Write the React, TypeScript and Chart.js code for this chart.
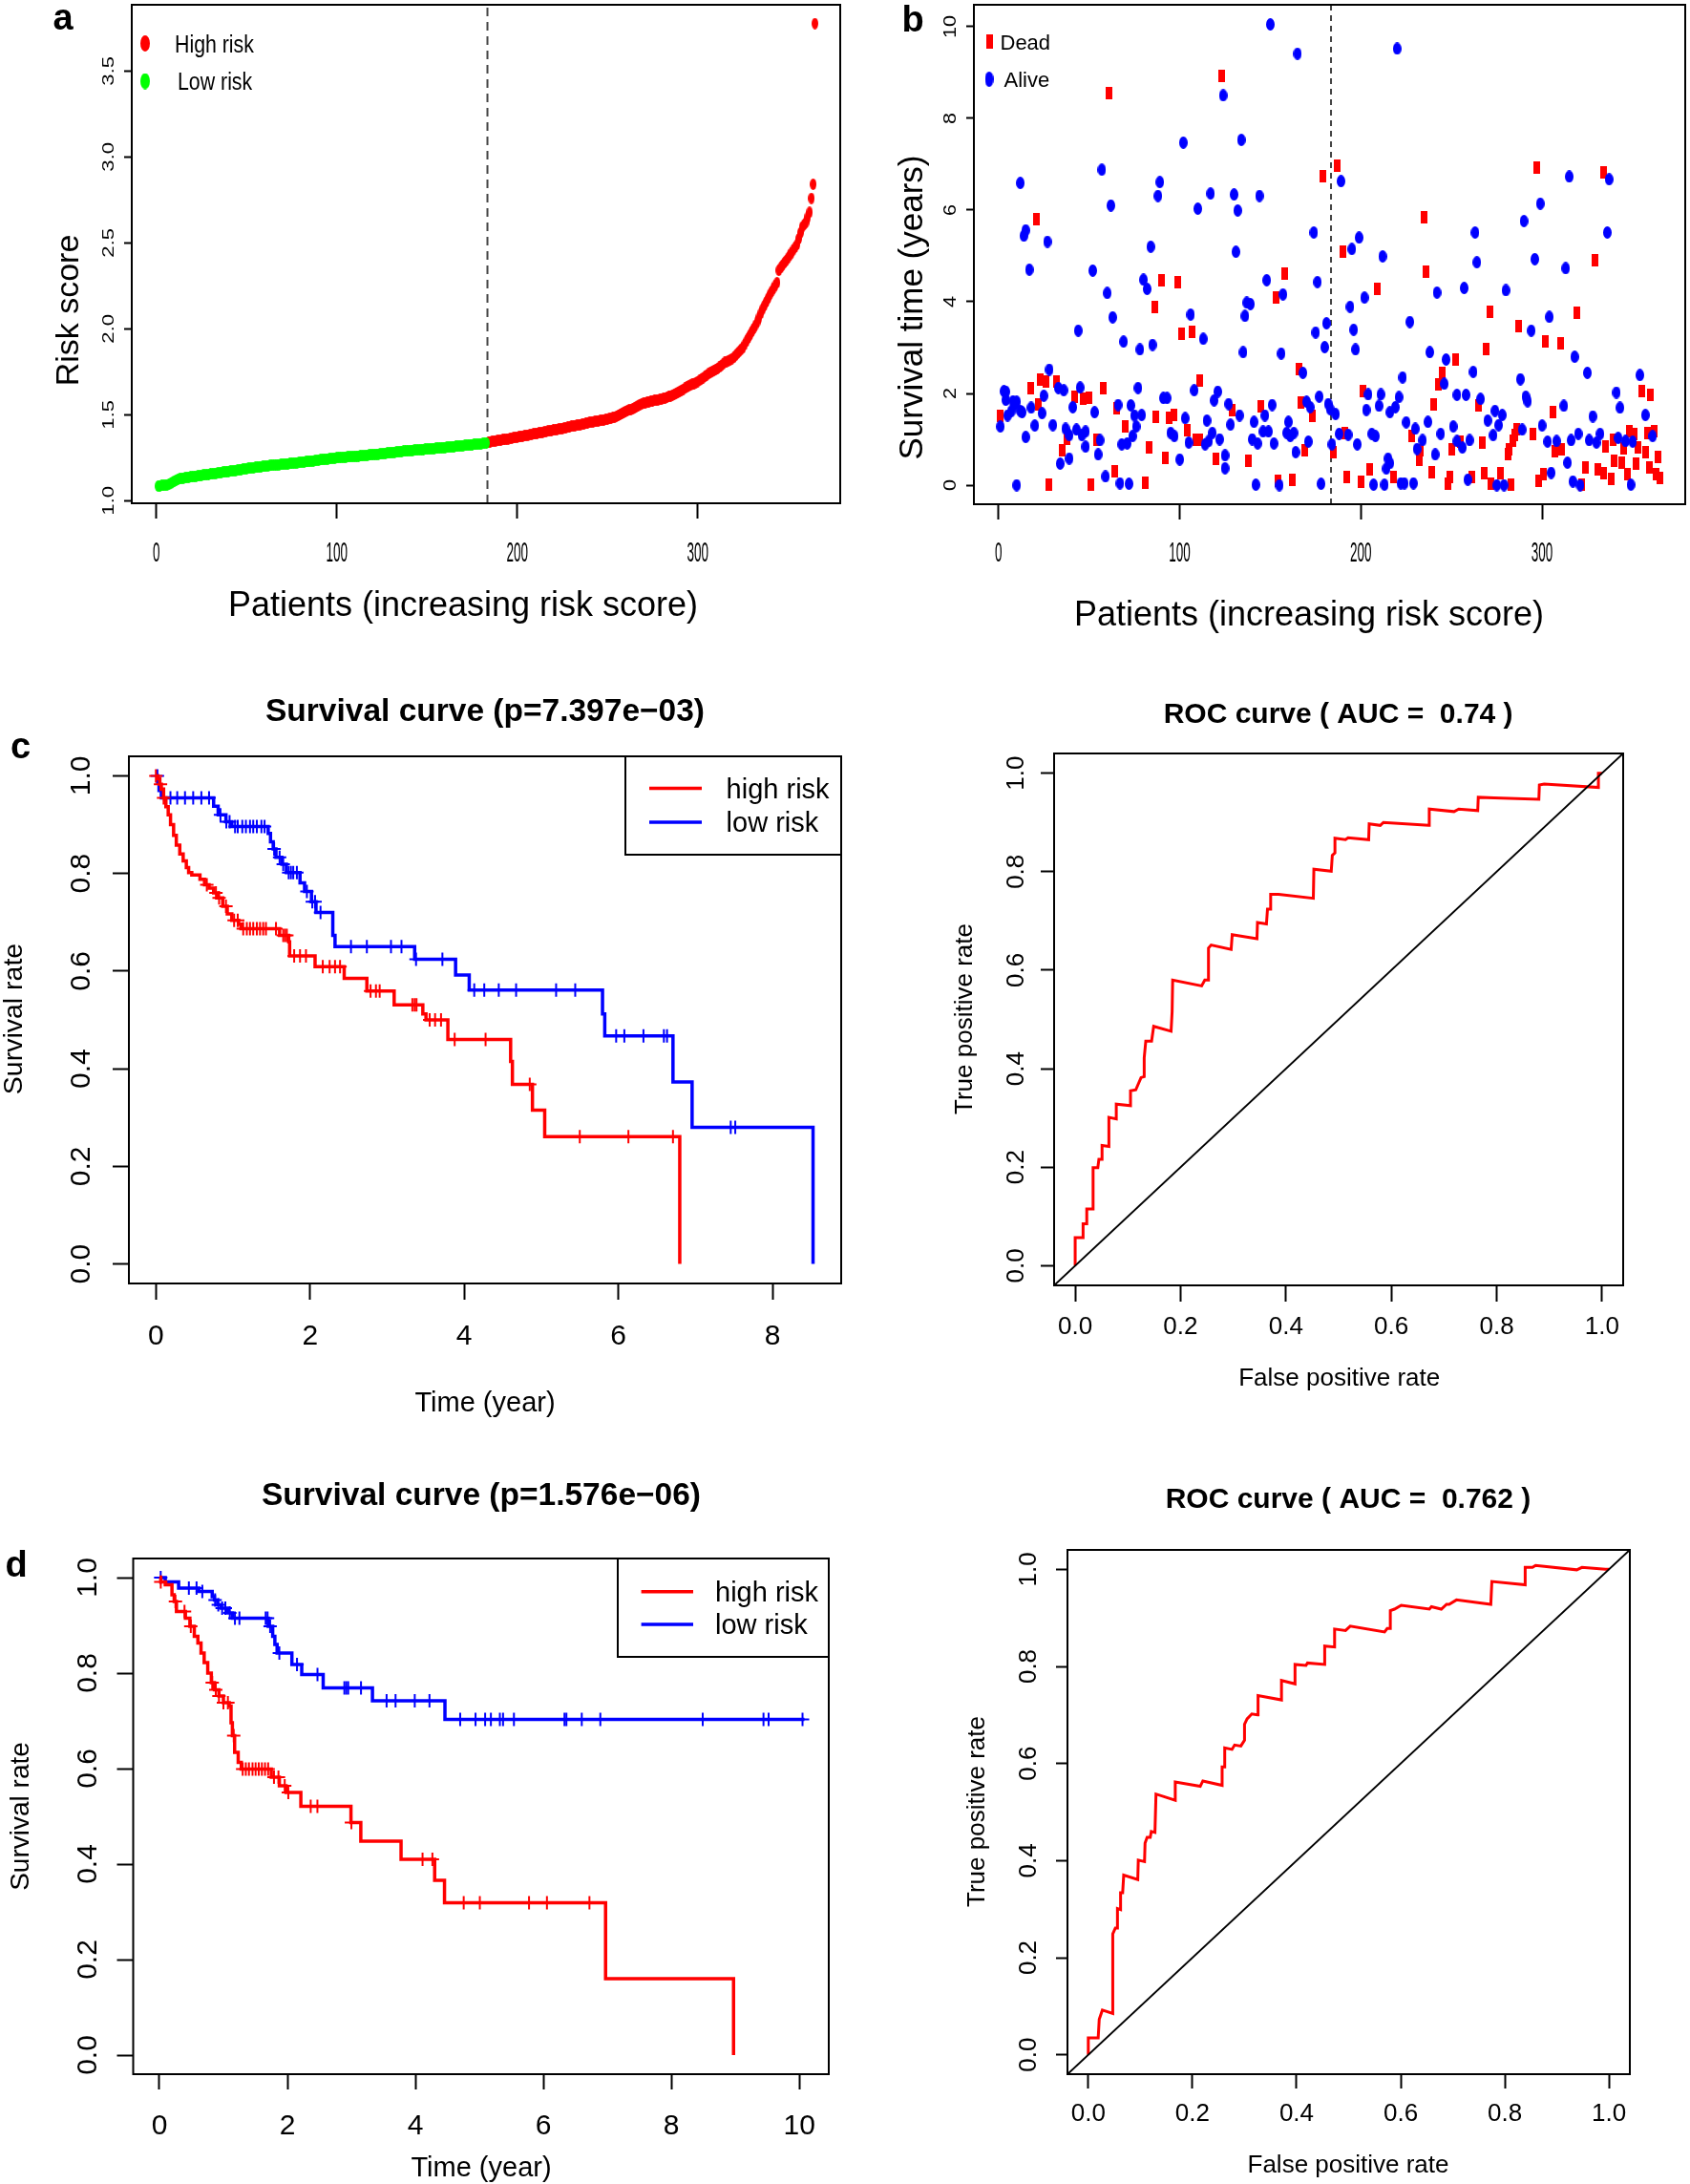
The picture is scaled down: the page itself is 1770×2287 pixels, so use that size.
import React, { useEffect, useRef } from 'react';
import { Chart, registerables } from 'chart.js';
Chart.register(...registerables);

const FONT = '"Liberation Sans", Arial, Helvetica, sans-serif';

// ---------------- Panel a: risk score per patient (sorted) ----------------
const riskScores = [
  1.085,1.086,1.088,1.089,1.090,1.092,1.095,1.100,1.108,1.115,1.120,1.125,1.128,1.130,1.132,1.134,1.136,1.137,1.139,1.140,
  1.141,1.143,1.144,1.146,1.147,1.149,1.150,1.152,1.153,1.155,1.157,1.158,1.160,1.161,1.163,1.164,1.166,1.167,1.169,1.170,
  1.172,1.173,1.175,1.176,1.178,1.180,1.182,1.184,1.185,1.187,1.188,1.190,1.191,1.192,1.194,1.195,1.196,1.198,1.199,1.200,
  1.202,1.203,1.205,1.206,1.207,1.208,1.209,1.210,1.211,1.212,1.213,1.214,1.215,1.216,1.217,1.218,1.220,1.221,1.222,1.224,
  1.225,1.226,1.227,1.229,1.230,1.231,1.232,1.233,1.235,1.236,1.238,1.239,1.241,1.242,1.243,1.245,1.246,1.247,1.248,1.250,
  1.251,1.252,1.252,1.253,1.254,1.255,1.256,1.256,1.257,1.258,1.259,1.260,1.261,1.262,1.263,1.264,1.265,1.266,1.267,1.268,
  1.269,1.270,1.271,1.272,1.273,1.275,1.276,1.277,1.278,1.279,1.281,1.282,1.283,1.284,1.286,1.287,1.288,1.289,1.290,1.291,
  1.292,1.293,1.294,1.295,1.296,1.297,1.297,1.298,1.299,1.300,1.301,1.302,1.303,1.304,1.305,1.306,1.307,1.308,1.309,1.310,
  1.311,1.312,1.313,1.314,1.315,1.317,1.318,1.319,1.320,1.321,1.322,1.323,1.324,1.325,1.326,1.327,1.328,1.329,1.330,1.331,
  1.333,1.334,1.336,1.340,1.343,1.345,1.347,1.348,1.350,1.352,1.353,1.355,1.357,1.358,1.360,1.362,1.364,1.366,1.368,1.370,
  1.372,1.374,1.376,1.378,1.380,1.382,1.384,1.386,1.388,1.390,1.392,1.394,1.396,1.398,1.400,1.402,1.405,1.407,1.409,1.411,
  1.413,1.415,1.417,1.419,1.421,1.423,1.425,1.427,1.430,1.433,1.435,1.437,1.439,1.441,1.443,1.445,1.447,1.449,1.452,1.455,
  1.457,1.459,1.461,1.463,1.465,1.466,1.468,1.470,1.472,1.474,1.477,1.480,1.483,1.487,1.491,1.496,1.502,1.508,1.514,1.520,
  1.524,1.528,1.531,1.534,1.540,1.547,1.554,1.560,1.564,1.567,1.570,1.573,1.576,1.579,1.581,1.583,1.585,1.587,1.589,1.592,
  1.595,1.598,1.602,1.606,1.610,1.614,1.618,1.624,1.630,1.636,1.642,1.648,1.655,1.661,1.667,1.672,1.677,1.682,1.687,1.693,
  1.700,1.707,1.715,1.723,1.731,1.739,1.745,1.751,1.757,1.763,1.769,1.777,1.786,1.795,1.805,1.810,1.815,1.820,1.826,1.833,
  1.845,1.857,1.868,1.879,1.890,1.908,1.927,1.946,1.965,1.984,2.002,2.021,2.040,2.065,2.090,2.115,2.136,2.157,2.178,2.200,
  2.218,2.236,2.253,2.269,2.340,2.355,2.370,2.384,2.397,2.412,2.428,2.443,2.459,2.474,2.490,2.524,2.559,2.593,2.607,2.620,
  2.650,2.678,2.759,2.841,3.776,
];
const lowRiskCount = 183;
const cutoffPatient = 183.5;

// ---------------- Panel b: survival time by patient ----------------
const alivePatient = [
  12,14,15,17,27,52,57,60,62,84,80,82,88,89,102,110,117,124,130,132,131,134,144,148,150,157,165,174,176,189,195,199,202,212,220,242,257,263,264,280,290,296,299,313,315,336,337,
  63,44,69,78,85,106,113,28,3,4,4,8,10,9,7,5,12,13,1,15,10,18,20,24,25,30,33,36,37,39,41,43,45,46,48,48,53,34,39,55,56,59,66,67,72,68,71,73,74,75,76,77,79,91,93,95,97,100,103,105,108,115,114,116,119,121,122,
  137,139,136,135,156,168,175,180,181,194,196,197,227,238,247,127,133,128,118,125,125,141,147,146,149,140,143,152,142,151,160,159,161,163,164,155,170,172,171,177,178,182,183,186,184,188,193,198,204,203,206,208,211,210,216,219,221,223,207,213,215,216,214,222,224,229,225,230,234,231,237,241,244,246,251,253,253,
  294,304,318,325,354,262,288,291,292,258,266,274,278,270,276,273,289,300,312,328,341,343,357,256,260,303,308,316,320,314,326,330,332,342,346,350,361,259,275,279,305,317,321,349,
];
const aliveYears = [
  6.59,5.44,5.56,4.70,5.31,4.68,6.88,4.19,6.10,5.20,4.48,4.28,6.31,6.61,7.47,6.03,6.36,8.50,6.34,5.99,5.09,7.53,6.31,4.47,10.05,4.16,9.41,5.51,4.43,6.63,5.15,5.40,4.09,4.99,9.52,4.20,4.30,5.51,4.86,4.25,5.76,4.93,6.14,4.73,6.73,5.51,6.67,
  3.66,3.37,3.13,2.96,3.06,3.72,3.19,2.52,2.05,2.04,1.86,1.83,1.82,1.76,1.61,1.52,1.62,1.59,1.28,1.05,0.00,1.69,1.30,1.57,1.95,1.31,2.12,2.07,1.23,1.09,1.70,1.21,2.13,1.09,1.17,0.84,1.59,0.47,0.58,0.67,0.98,0.19,1.75,0.04,0.03,0.89,0.91,1.74,1.07,1.52,1.28,2.12,1.53,1.90,1.90,1.14,1.07,0.56,1.46,0.93,2.07,1.41,0.89,0.96,1.85,2.04,1.00,
  3.98,3.95,3.69,2.90,2.87,2.45,3.33,3.01,3.53,3.89,3.39,2.96,3.56,2.90,2.74,1.77,1.52,1.32,1.14,0.65,0.37,1.38,1.52,1.17,1.17,1.00,0.91,0.91,0.01,1.75,1.38,1.14,1.07,1.14,0.72,0.00,1.82,1.70,0.95,1.93,0.03,1.77,1.66,1.55,0.89,1.12,1.10,0.89,1.98,1.64,1.12,1.07,1.98,1.73,1.59,1.70,1.92,2.35,0.01,0.01,0.58,0.48,0.36,0.04,0.04,0.04,1.37,1.23,0.98,0.79,1.38,0.67,1.12,2.21,1.28,0.96,1.97,
  3.37,3.67,2.80,2.45,2.40,2.47,2.31,1.93,1.83,1.97,1.88,1.62,1.53,1.41,1.31,1.09,1.21,1.30,1.73,1.50,2.02,1.69,1.53,0.82,0.98,0.95,0.96,0.98,1.12,0.49,0.98,0.93,1.12,1.03,0.96,0.95,1.07,0.12,0.00,0.00,0.27,0.08,0.00,0.01,
];
const deadPatient = [
  21,61,90,99,123,158,153,179,187,190,209,235,236,297,329,334,
  86,101,107,111,1,18,23,26,32,22,42,47,50,58,38,35,54,65,70,64,28,51,81,83,87,92,94,97,104,109,111,120,
  166,201,245,243,252,240,129,145,167,173,138,169,185,191,154,162,192,200,205,218,228,233,232,239,249,248,250,
  271,287,302,310,319,269,355,360,265,306,255,267,286,285,284,282,281,295,307,311,335,339,340,344,345,348,351,353,357,352,358,362,359,364,363,365,261,268,272,277,283,298,301,322,324,331,334,338,347,
];
const deadYears = [
  5.80,8.56,4.46,4.43,8.92,4.61,4.09,6.73,6.97,5.09,4.28,5.84,4.65,6.93,4.91,6.82,
  3.89,3.31,3.35,2.28,1.52,2.11,2.31,2.27,2.27,1.76,1.93,1.88,1.90,2.11,1.02,0.76,1.00,1.67,1.28,0.30,0.01,0.01,0.06,0.82,1.50,0.60,1.46,1.53,1.19,0.98,0.98,0.57,
  2.54,2.05,2.45,2.19,2.74,1.76,1.64,1.71,1.81,1.52,0.53,0.76,0.72,1.14,0.10,0.11,0.17,0.08,0.35,0.18,1.07,0.77,0.56,0.29,0.17,0.04,0.79,
  3.79,3.46,3.13,3.10,3.76,2.97,2.05,1.96,1.73,1.59,0.95,0.93,1.22,1.10,0.96,0.79,0.67,1.12,0.73,0.79,0.84,1.00,0.53,0.48,0.81,1.17,1.12,0.82,0.72,0.46,1.14,1.17,0.39,0.62,0.24,0.15,0.17,0.27,0.03,0.27,0.01,0.10,0.25,0.01,0.39,0.34,0.27,0.13,0.24,
];

// ---------------- Tick values ----------------
const patientTicks = [0, 100, 200, 300];
const riskTicks = [1.0, 1.5, 2.0, 2.5, 3.0, 3.5];
const yearTicksB = [0, 2, 4, 6, 8, 10];
const kmTimeTicksC = [0, 2, 4, 6, 8];
const kmTimeTicksD = [0, 2, 4, 6, 8, 10];
const rateTicks = [0, 0.2, 0.4, 0.6, 0.8, 1.0];

// ---------------- Panel c: Kaplan-Meier (training) ----------------
const cHighTime = [0,0.024,0.05,0.071,0.10,0.13,0.16,0.19,0.23,0.265,0.31,0.354,0.395,0.425,0.466,0.572,0.631,0.69,0.749,0.808,0.867,0.926,0.985,1.074,1.103,1.605,1.723,1.735,2.065,2.443,2.737,3.091,3.463,3.504,3.788,4.602,4.625,4.885,5.044,6.796];
const cHighSurv = [1.0,0.994,0.983,0.973,0.955,0.937,0.920,0.900,0.878,0.858,0.840,0.826,0.812,0.802,0.797,0.788,0.777,0.770,0.760,0.750,0.733,0.717,0.704,0.696,0.687,0.673,0.660,0.631,0.609,0.585,0.559,0.531,0.512,0.500,0.460,0.415,0.368,0.315,0.261,0];
const cHighCensor = [0.0,0.06,0.10,0.661,0.779,0.82,0.909,1.015,1.062,1.133,1.18,1.221,1.263,1.31,1.351,1.392,1.428,1.558,1.652,1.676,1.699,1.794,1.87,1.947,2.165,2.254,2.324,2.389,2.785,2.855,2.903,3.327,3.357,3.381,3.552,3.622,3.699,3.876,4.277,4.85,5.499,6.13,6.708];
const cLowTime = [0,0.024,0.041,0.071,0.749,0.808,0.909,0.985,1.457,1.487,1.522,1.558,1.634,1.693,1.87,1.929,2.018,2.077,2.295,2.324,3.357,3.888,4.065,5.794,5.823,6.708,6.956,8.525];
const cLowSurv = [1.0,0.985,0.970,0.955,0.938,0.920,0.906,0.896,0.882,0.865,0.850,0.833,0.819,0.802,0.781,0.763,0.742,0.720,0.673,0.650,0.624,0.592,0.561,0.512,0.467,0.373,0.280,0];
const cLowCensor = [0.02,0.189,0.277,0.378,0.484,0.59,0.69,0.838,0.914,0.956,1.027,1.062,1.121,1.168,1.221,1.263,1.31,1.369,1.41,1.534,1.605,1.652,1.723,1.752,1.782,1.829,1.959,2.029,2.065,2.136,2.531,2.737,3.05,3.186,3.375,3.717,4.13,4.26,4.448,4.673,5.192,5.44,5.971,6.077,6.325,6.59,6.631,7.457,7.516];

// ---------------- Panel c: ROC ----------------
const rocCFpr = [0,0,.015,.015,.022,.022,.034,.034,.043,.045,.051,.051,.064,.064,.078,.078,.105,.105,.115,.125,.131,.131,.134,.145,.149,.182,.184,.185,.24,.246,.252,.253,.258,.296,.298,.345,.346,.363,.365,.371,.371,.386,.452,.453,.486,.488,.493,.493,.513,.518,.557,.558,.579,.585,.671,.672,.719,.728,.764,.765,.795,.88,.881,.89,.993,.993,1];
const rocCTpr = [0,.057,.057,.085,.085,.115,.115,.199,.199,.216,.216,.244,.242,.301,.298,.328,.325,.355,.357,.382,.384,.422,.456,.456,.486,.476,.516,.58,.568,.58,.58,.645,.651,.642,.672,.664,.697,.694,.724,.724,.754,.754,.746,.805,.801,.833,.838,.868,.865,.869,.865,.897,.894,.9,.894,.927,.922,.927,.924,.951,.95,.947,.976,.978,.971,1.0,1.0];

// ---------------- Panel d: Kaplan-Meier (validation) ----------------
const dHighTime = [0,0.021,0.091,0.196,0.231,0.266,0.406,0.476,0.545,0.601,0.65,0.699,0.755,0.811,0.86,0.93,1.0,1.091,1.119,1.14,1.175,1.231,1.28,1.748,1.874,1.979,2.21,2.993,3.147,3.776,4.301,4.455,6.972,8.972];
const dHighSurv = [1.0,0.991,0.985,0.964,0.950,0.929,0.915,0.898,0.877,0.863,0.842,0.822,0.800,0.780,0.765,0.752,0.738,0.731,0.696,0.669,0.634,0.613,0.599,0.582,0.564,0.550,0.521,0.487,0.448,0.410,0.366,0.319,0.160,0];
const dHighCensor = [0.021,0.25,0.392,0.49,0.825,0.881,0.93,1.0,1.07,1.161,1.301,1.35,1.399,1.455,1.503,1.552,1.601,1.65,1.699,1.79,1.86,1.958,2.014,2.364,2.469,3.0,4.112,4.266,4.755,5.007,5.776,6.056,6.72];
const dLowTime = [0,0.091,0.30,0.615,0.825,0.86,0.909,0.965,1.07,1.14,1.70,1.77,1.804,1.839,2.07,2.224,2.559,3.329,4.462,10.08];
const dLowSurv = [1.0,0.991,0.978,0.971,0.960,0.953,0.943,0.936,0.926,0.915,0.898,0.877,0.860,0.842,0.818,0.797,0.769,0.742,0.703,0.703];
const dLowCensor = [0.02,0.46,0.58,0.67,0.87,0.92,0.98,1.03,1.10,1.18,1.25,1.66,1.69,1.73,1.874,2.15,2.47,2.89,2.92,2.95,3.15,3.55,3.69,3.99,4.22,4.70,4.94,5.09,5.18,5.32,5.37,5.54,6.33,6.36,6.60,6.89,8.49,9.44,9.52,10.05];

// ---------------- Panel d: ROC ----------------
const rocDFpr = [0,0,.019,.021,.027,.047,.047,.052,.056,.056,.062,.062,.066,.068,.095,.096,.108,.109,.113,.119,.121,.128,.13,.167,.167,.215,.22,.257,.257,.262,.262,.276,.281,.293,.3,.3,.305,.314,.325,.326,.371,.371,.397,.397,.418,.421,.454,.454,.473,.473,.494,.503,.569,.574,.58,.58,.588,.601,.655,.659,.678,.688,.693,.707,.773,.775,.839,.839,.853,.859,.938,.948,.993,1];
const rocDTpr = [0,.035,.035,.073,.092,.085,.249,.261,.261,.301,.299,.334,.334,.37,.361,.401,.398,.436,.448,.448,.46,.458,.537,.524,.562,.553,.564,.555,.593,.593,.632,.629,.638,.636,.648,.681,.692,.702,.7,.74,.731,.771,.764,.804,.802,.807,.804,.842,.84,.877,.874,.883,.871,.878,.878,.915,.918,.926,.918,.923,.918,.928,.928,.937,.928,.975,.968,1.004,1.004,1.008,.999,1.004,1.0,1.0];

// ---------------- Text ----------------
const titleC = 'Survival curve (p=7.397e\u221203)';
const titleD = 'Survival curve (p=1.576e\u221206)';
const rocTitleC = 'ROC curve ( AUC =  0.74 )';
const rocTitleD = 'ROC curve ( AUC =  0.762 )';

// ---------------- Layout (page regions for each canvas) ----------------
const PANELS = [
  { ox: 0, oy: 0, w: 885, h: 680 },
  { ox: 885, oy: 0, w: 885, h: 680 },
  { ox: 0, oy: 690, w: 900, h: 800 },
  { ox: 900, oy: 690, w: 870, h: 800 },
  { ox: 0, oy: 1500, w: 900, h: 787 },
  { ox: 900, oy: 1500, w: 870, h: 787 },
];

const RED = '#FF0000';
const BLUE = '#0000FF';
const GREEN = '#00FF00';

function survAt(times: number[], surv: number[], t: number) {
  let s = surv[0];
  for (let i = 0; i < times.length; i++) {
    if (times[i] <= t) s = surv[i];
    else break;
  }
  return s;
}

function ellipseImg(w: number, h: number, color: string) {
  const c = document.createElement('canvas');
  c.width = w; c.height = h;
  const g = c.getContext('2d')!;
  g.fillStyle = color;
  g.beginPath();
  g.ellipse(w / 2, h / 2, w / 2, h / 2, 0, 0, Math.PI * 2);
  g.fill();
  return c;
}
function rectImg(w: number, h: number, color: string) {
  const c = document.createElement('canvas');
  c.width = w; c.height = h;
  const g = c.getContext('2d')!;
  g.fillStyle = color;
  g.fillRect(0, 0, w, h);
  return c;
}

function drawText(ctx: CanvasRenderingContext2D, it: any) {
  ctx.save();
  ctx.translate(it.x, it.y);
  if (it.rot) ctx.rotate(-Math.PI / 2);
  ctx.scale(it.sx ?? 1, 1);
  ctx.font = `${it.bold ? 'bold ' : ''}${it.size}px ${FONT}`;
  ctx.fillStyle = '#000';
  ctx.textAlign = it.align ?? 'center';
  ctx.textBaseline = 'alphabetic';
  ctx.fillText(it.t, 0, it.base ? 0 : it.size * 0.36);
  ctx.restore();
}

function buildChart(canvas: HTMLCanvasElement, panel: any, spec: any, datasets: any[]) {
  const [L, T, R, B] = spec.box;
  const AX = 30;
  const decor = {
    id: 'decor',
    afterDraw(chart: any) {
      const ctx = chart.ctx as CanvasRenderingContext2D;
      const ca = chart.chartArea;
      ctx.save();
      ctx.strokeStyle = '#000';
      ctx.lineWidth = 2;
      ctx.strokeRect(ca.left, ca.top, ca.right - ca.left, ca.bottom - ca.top);
      const xs = chart.scales.x;
      xs.ticks.forEach((tk: any) => {
        const px = xs.getPixelForValue(tk.value);
        drawText(ctx, {
          t: tk.value.toFixed(spec.xLab.dec), x: px, y: spec.xLab.y - panel.oy,
          size: spec.xLab.size, sx: spec.xLab.sx,
        });
      });
      const ys = chart.scales.y;
      ys.ticks.forEach((tk: any) => {
        const py = ys.getPixelForValue(tk.value);
        drawText(ctx, {
          t: tk.value.toFixed(spec.yLab.dec), x: spec.yLab.x - panel.ox, y: py,
          size: spec.yLab.size, sx: spec.yLab.sl, rot: true,
        });
      });
      ctx.translate(-panel.ox, -panel.oy);
      (spec.rects || []).forEach((r: number[]) => {
        ctx.lineWidth = 2;
        ctx.strokeStyle = '#000';
        ctx.strokeRect(r[0], r[1], r[2] - r[0], r[3] - r[1]);
      });
      (spec.lines || []).forEach((l: any) => {
        ctx.beginPath();
        ctx.strokeStyle = l.color;
        ctx.lineWidth = l.width;
        ctx.moveTo(l.x1, l.y);
        ctx.lineTo(l.x2, l.y);
        ctx.stroke();
      });
      (spec.marks || []).forEach((m: any) => {
        ctx.drawImage(m.img, m.x - m.img.width / 2, m.y - m.img.height / 2);
      });
      (spec.texts || []).forEach((t: any) => drawText(ctx, t));
      ctx.restore();
    },
  };
  const fitX = (s: any) => { s.height = AX; s.paddingLeft = 0; s.paddingRight = 0; s.paddingTop = 0; s.paddingBottom = 0; };
  const fitY = (s: any) => { s.width = AX; s.paddingLeft = 0; s.paddingRight = 0; s.paddingTop = 0; s.paddingBottom = 0; };
  const xTickVals: number[] = spec.xTicks;
  const yTickVals: number[] = spec.yTicks;
  return new Chart(canvas, {
    type: 'line',
    data: { datasets },
    options: {
      responsive: false,
      animation: false,
      devicePixelRatio: 1,
      events: [],
      layout: {
        padding: {
          left: L - panel.ox - AX,
          top: T - panel.oy,
          right: panel.ox + panel.w - R,
          bottom: panel.oy + panel.h - B - AX,
        },
      },
      plugins: { legend: { display: false }, tooltip: { enabled: false }, title: { display: false } },
      scales: {
        x: {
          type: 'linear', position: 'bottom', min: spec.x[0], max: spec.x[1],
          ticks: { display: false },
          afterBuildTicks: (s: any) => { s.ticks = xTickVals.map((v) => ({ value: v })); },
          grid: { display: true, drawOnChartArea: false, drawTicks: true, tickLength: spec.xTick, tickWidth: 2, tickColor: '#000' },
          border: { display: false },
          afterFit: fitX,
        },
        y: {
          type: 'linear', position: 'left', min: spec.y[0], max: spec.y[1],
          ticks: { display: false },
          afterBuildTicks: (s: any) => { s.ticks = yTickVals.map((v) => ({ value: v })); },
          grid: { display: true, drawOnChartArea: false, drawTicks: true, tickLength: spec.yTick, tickWidth: 2, tickColor: '#000' },
          border: { display: false },
          afterFit: fitY,
        },
      },
    } as any,
    plugins: [decor],
  });
}

function kmSets(time: number[], surv: number[], censor: number[], color: string) {
  return [
    {
      data: time.map((t, i) => ({ x: t, y: surv[i] })),
      borderColor: color, borderWidth: 3.5, pointRadius: 0, stepped: 'before', fill: false, tension: 0,
    },
    {
      data: censor.map((t) => ({ x: t, y: survAt(time, surv, t) })),
      showLine: false, pointStyle: 'cross', pointRadius: 7, borderColor: color, borderWidth: 2,
    },
  ];
}

function rocSets(fpr: number[], tpr: number[]) {
  return [
    {
      data: [{ x: -0.04, y: -0.04 }, { x: 1.04, y: 1.04 }],
      borderColor: '#000', borderWidth: 2, pointRadius: 0, tension: 0,
    },
    {
      data: fpr.map((f, i) => ({ x: f, y: tpr[i] })),
      borderColor: RED, borderWidth: 3, pointRadius: 0, tension: 0,
    },
  ];
}

export default function App() {
  const refs = useRef<(HTMLCanvasElement | null)[]>([]);

  useEffect(() => {
    const charts: Chart[] = [];
    const c = refs.current;

    // ---- Panel a ----
    const greenDot = ellipseImg(7, 12, GREEN);
    const redDot = ellipseImg(7, 12, RED);
    const specA = {
      box: [138, 5, 884, 527], x: [-13.6, 379, 100], y: [0.985, 3.885, 0.5],
      xTicks: patientTicks, yTicks: riskTicks,
      xTick: 16, yTick: 8,
      xLab: { y: 577, size: 30, sx: 0.45, dec: 0 },
      yLab: { x: 113, size: 17, sl: 1.3, dec: 1 },
      marks: [
        { img: ellipseImg(10, 17, RED), x: 152, y: 45.5 },
        { img: ellipseImg(10, 17, GREEN), x: 152, y: 85 },
      ],
      texts: [
        { t: 'a', x: 66, y: 31, size: 38, bold: true, base: true },
        { t: 'Risk score', x: 70, y: 325, size: 34, rot: true },
        { t: 'Patients (increasing risk score)', x: 485, y: 632, size: 36 },
        { t: 'High risk', x: 183, y: 45.5, size: 26, sx: 0.82, align: 'left' },
        { t: 'Low risk', x: 186, y: 85, size: 26, sx: 0.82, align: 'left' },
      ],
    };
    charts.push(buildChart(c[0]!, PANELS[0], specA, [
      {
        data: riskScores.slice(0, lowRiskCount).map((v, i) => ({ x: i + 1, y: v })),
        showLine: false, pointStyle: greenDot, pointRadius: 4,
      },
      {
        data: riskScores.slice(lowRiskCount).map((v, i) => ({ x: i + 1 + lowRiskCount, y: v })),
        showLine: false, pointStyle: redDot, pointRadius: 4,
      },
      {
        data: [{ x: cutoffPatient, y: 0.985 }, { x: cutoffPatient, y: 3.885 }],
        borderColor: '#444', borderWidth: 2, borderDash: [9, 6], pointRadius: 0,
      },
    ]));

    // ---- Panel b ----
    const blueDot = ellipseImg(9, 13, BLUE);
    const redSq = rectImg(7, 13, RED);
    const specB = {
      box: [1020, 4, 1768, 528], x: [-13.6, 379, 100], y: [-0.416, 10.477, 2],
      xTicks: patientTicks, yTicks: yearTicksB,
      xTick: 16, yTick: 8,
      xLab: { y: 577.6, size: 30, sx: 0.45, dec: 0 },
      yLab: { x: 995, size: 18, sl: 1.2, dec: 0 },
      marks: [
        { img: rectImg(7, 15, RED), x: 1036, y: 43 },
        { img: ellipseImg(9, 16, BLUE), x: 1036, y: 83 },
      ],
      texts: [
        { t: 'b', x: 956, y: 32.5, size: 38, bold: true, base: true },
        { t: 'Survival time (years)', x: 953, y: 322, size: 35, rot: true },
        { t: 'Patients (increasing risk score)', x: 1371, y: 642, size: 36 },
        { t: 'Dead', x: 1047.5, y: 44, size: 22, align: 'left' },
        { t: 'Alive', x: 1051.5, y: 83, size: 22, align: 'left' },
      ],
    };
    charts.push(buildChart(c[1]!, PANELS[1], specB, [
      {
        data: alivePatient.map((p, i) => ({ x: p, y: aliveYears[i] })),
        showLine: false, pointStyle: blueDot, pointRadius: 4,
      },
      {
        data: deadPatient.map((p, i) => ({ x: p, y: deadYears[i] })),
        showLine: false, pointStyle: redSq, pointRadius: 4,
      },
      {
        data: [{ x: cutoffPatient, y: -0.416 }, { x: cutoffPatient, y: 10.477 }],
        borderColor: '#444', borderWidth: 2, borderDash: [6, 5], pointRadius: 0,
      },
    ]));

    // ---- Panel c KM ----
    const specC = {
      box: [135, 792, 881, 1344], x: [-0.35, 8.89, 2], y: [-0.04, 1.04, 0.2],
      xTicks: kmTimeTicksC, yTicks: rateTicks,
      xTick: 17, yTick: 17,
      xLab: { y: 1397, size: 30, dec: 0 },
      yLab: { x: 83, size: 30, dec: 1 },
      rects: [[655, 792, 881, 895]],
      lines: [
        { x1: 680, x2: 735, y: 825.5, color: RED, width: 3.5 },
        { x1: 680, x2: 735, y: 861, color: BLUE, width: 3.5 },
      ],
      texts: [
        { t: 'c', x: 21.5, y: 794, size: 38, bold: true, base: true },
        { t: titleC, x: 508, y: 743, size: 33.5, bold: true },
        { t: 'Survival rate', x: 12.6, y: 1067, size: 28.5, rot: true },
        { t: 'Time (year)', x: 508, y: 1468, size: 29 },
        { t: 'high risk', x: 760.6, y: 825.5, size: 29, align: 'left' },
        { t: 'low risk', x: 760.6, y: 861, size: 29, align: 'left' },
      ],
    };
    charts.push(buildChart(c[2]!, PANELS[2], specC, [
      ...kmSets(cHighTime, cHighSurv, cHighCensor, RED),
      ...kmSets(cLowTime, cLowSurv, cLowCensor, BLUE),
    ]));

    // ---- Panel c ROC ----
    const specCR = {
      box: [1104, 789, 1700, 1346], x: [-0.04, 1.04, 0.2], y: [-0.04, 1.04, 0.2],
      xTicks: rateTicks, yTicks: rateTicks,
      xTick: 17, yTick: 14,
      xLab: { y: 1388, size: 26, dec: 1 },
      yLab: { x: 1063, size: 26, dec: 1 },
      texts: [
        { t: rocTitleC, x: 1401.6, y: 746, size: 30, bold: true },
        { t: 'True positive rate', x: 1009, y: 1067, size: 26, rot: true },
        { t: 'False positive rate', x: 1402.7, y: 1442, size: 26 },
      ],
    };
    charts.push(buildChart(c[3]!, PANELS[3], specCR, rocSets(rocCFpr, rocCTpr)));

    // ---- Panel d KM ----
    const specD = {
      box: [139.5, 1632, 868, 2172], x: [-0.41, 10.46, 2], y: [-0.04, 1.04, 0.2],
      xTicks: kmTimeTicksD, yTicks: rateTicks,
      xTick: 16, yTick: 17,
      xLab: { y: 2224, size: 30, dec: 0 },
      yLab: { x: 90, size: 30, dec: 1 },
      rects: [[647, 1632, 868, 1735]],
      lines: [
        { x1: 671.6, x2: 726, y: 1666.7, color: RED, width: 3.5 },
        { x1: 671.6, x2: 726, y: 1701, color: BLUE, width: 3.5 },
      ],
      texts: [
        { t: 'd', x: 17, y: 1651, size: 38, bold: true, base: true },
        { t: titleD, x: 504, y: 1564, size: 33.5, bold: true },
        { t: 'Survival rate', x: 20, y: 1902, size: 28, rot: true },
        { t: 'Time (year)', x: 504, y: 2269, size: 29 },
        { t: 'high risk', x: 749, y: 1666.7, size: 29, align: 'left' },
        { t: 'low risk', x: 749, y: 1701, size: 29, align: 'left' },
      ],
    };
    charts.push(buildChart(c[4]!, PANELS[4], specD, [
      ...kmSets(dHighTime, dHighSurv, dHighCensor, RED),
      ...kmSets(dLowTime, dLowSurv, dLowCensor, BLUE),
    ]));

    // ---- Panel d ROC ----
    const specDR = {
      box: [1118, 1623, 1707, 2172], x: [-0.04, 1.04, 0.2], y: [-0.04, 1.04, 0.2],
      xTicks: rateTicks, yTicks: rateTicks,
      xTick: 15, yTick: 12,
      xLab: { y: 2212, size: 26, dec: 1 },
      yLab: { x: 1076, size: 26, dec: 1 },
      texts: [
        { t: rocTitleD, x: 1412, y: 1568.6, size: 30, bold: true },
        { t: 'True positive rate', x: 1022, y: 1897, size: 26, rot: true },
        { t: 'False positive rate', x: 1412, y: 2266, size: 26 },
      ],
    };
    charts.push(buildChart(c[5]!, PANELS[5], specDR, rocSets(rocDFpr, rocDTpr)));

    return () => charts.forEach((ch) => ch.destroy());
  }, []);

  return (
    <div style={{ position: 'absolute', left: 0, top: 0, width: 1770, height: 2287, background: '#fff', overflow: 'hidden' }}>
      {PANELS.map((p, i) => (
        <canvas
          key={i}
          ref={(el) => { refs.current[i] = el; }}
          width={p.w}
          height={p.h}
          style={{ position: 'absolute', left: p.ox, top: p.oy, width: p.w, height: p.h }}
        />
      ))}
    </div>
  );
}
